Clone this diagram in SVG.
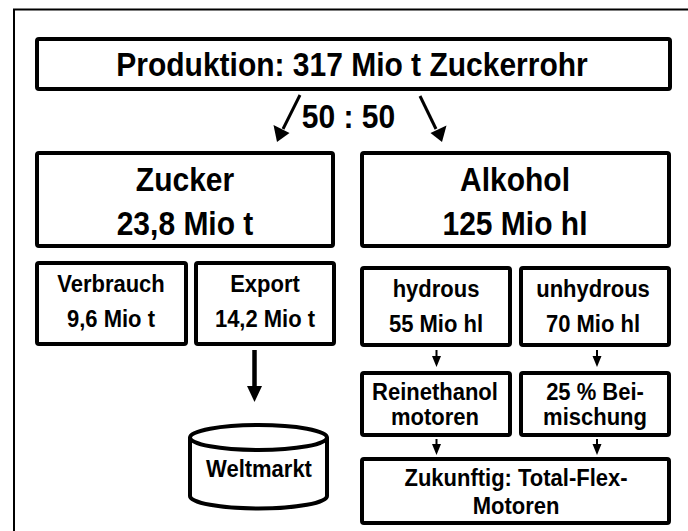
<svg xmlns="http://www.w3.org/2000/svg" width="688" height="531" viewBox="0 0 688 531">
  <style>
    .frame { fill: none; stroke: #000; stroke-width: 2; }
    .box { fill: #fff; stroke: #000; stroke-width: 4; }
    .big { font-family: "Liberation Sans", Arial, sans-serif; font-weight: bold; font-size: 30px; text-anchor: middle; fill: #000; }
    .small { font-family: "Liberation Sans", Arial, sans-serif; font-weight: bold; font-size: 22px; text-anchor: middle; fill: #000; }
    .line { fill: none; stroke: #000; }
    .head { fill: #000; stroke: none; }
  </style>

  <rect width="688" height="531" fill="#fff"/>
  <!-- outer frame, running off the right and bottom edges -->
  <rect class="frame" x="14" y="9.5" width="700" height="540"/>

  <!-- labels are set in a slightly tall face: each text is stretched 1.1x vertically about its baseline -->
  <g id="produktion">
    <rect class="box" x="37" y="39" width="633" height="50" rx="2"/>
    <text class="big" transform="translate(352,76) scale(1,1.1)">Produktion: 317 Mio t Zuckerrohr</text>
  </g>

  <g id="ratio">
    <text class="big" transform="translate(348.5,128) scale(1,1.1)">50 : 50</text>
  </g>

  <g id="zucker">
    <rect class="box" x="37" y="153" width="296" height="93" rx="2"/>
    <text class="big" transform="translate(185,191) scale(1,1.1)">Zucker</text>
    <text class="big" transform="translate(185,235) scale(1,1.1)">23,8 Mio t</text>
  </g>

  <g id="alkohol">
    <rect class="box" x="362" y="153" width="307" height="93" rx="2"/>
    <text class="big" transform="translate(515,191) scale(1,1.1)">Alkohol</text>
    <text class="big" transform="translate(515,235) scale(1,1.1)">125 Mio hl</text>
  </g>

  <g id="verbrauch">
    <rect class="box" x="37" y="263" width="149" height="81" rx="2"/>
    <text class="small" transform="translate(111,292) scale(1,1.1)">Verbrauch</text>
    <text class="small" transform="translate(111,327) scale(1,1.1)">9,6 Mio t</text>
  </g>

  <g id="export">
    <rect class="box" x="196" y="263" width="138" height="81" rx="2"/>
    <text class="small" transform="translate(265,292) scale(1,1.1)">Export</text>
    <text class="small" transform="translate(265,327) scale(1,1.1)">14,2 Mio t</text>
  </g>

  <g id="hydrous">
    <rect class="box" x="362" y="268" width="148" height="77" rx="2"/>
    <text class="small" transform="translate(436,297) scale(1,1.1)">hydrous</text>
    <text class="small" transform="translate(436,332) scale(1,1.1)">55 Mio hl</text>
  </g>

  <g id="unhydrous">
    <rect class="box" x="521" y="268" width="148" height="77" rx="2"/>
    <text class="small" transform="translate(593,297) scale(1,1.1)">unhydrous</text>
    <text class="small" transform="translate(593,332) scale(1,1.1)">70 Mio hl</text>
  </g>

  <g id="reinethanol">
    <rect class="box" x="362" y="373" width="148" height="62" rx="2"/>
    <text class="small" transform="translate(435,400) scale(1,1.1)">Reinethanol</text>
    <text class="small" transform="translate(435,425) scale(1,1.1)">motoren</text>
  </g>

  <g id="beimischung">
    <rect class="box" x="521" y="373" width="148" height="62" rx="2"/>
    <text class="small" transform="translate(595,400) scale(1,1.1)">25 % Bei-</text>
    <text class="small" transform="translate(595,425) scale(1,1.1)">mischung</text>
  </g>

  <g id="zukunftig">
    <rect class="box" x="362" y="459" width="307" height="64" rx="2"/>
    <text class="small" transform="translate(516,486) scale(1,1.1)">Zukunftig: Total-Flex-</text>
    <text class="small" transform="translate(516,514) scale(1,1.1)">Motoren</text>
  </g>

  <g id="weltmarkt">
    <path class="box" d="M190,437.5 L190,496 A68.5,12.5 0 0 0 327,496 L327,437.5"/>
    <ellipse class="box" cx="258.5" cy="437.5" rx="68.5" ry="12.5"/>
    <text class="small" transform="translate(259,477) scale(1,1.1)">Weltmarkt</text>
  </g>

  <g id="connectors">
    <!-- split of the harvest -->
    <line class="line" stroke-width="3" x1="300" y1="95" x2="283" y2="129"/>
    <polygon class="head" points="277,142 273.5,125 289.5,133"/>
    <line class="line" stroke-width="3" x1="420" y1="96" x2="436" y2="129"/>
    <polygon class="head" points="442,142 430.5,133 446.5,125.5"/>

    <!-- export to world market -->
    <line class="line" stroke-width="4.5" x1="254.5" y1="350" x2="254.5" y2="388"/>
    <polygon class="head" points="247,386 262,386 254.5,402"/>

    <!-- ethanol paths -->
    <line class="line" stroke-width="2" x1="436.5" y1="350" x2="436.5" y2="358"/>
    <polygon class="head" points="432,356 441,356 436.5,367"/>
    <line class="line" stroke-width="2" x1="597" y1="350" x2="597" y2="358"/>
    <polygon class="head" points="592.5,356 601.5,356 597,367"/>
    <line class="line" stroke-width="2" x1="436.5" y1="439" x2="436.5" y2="446"/>
    <polygon class="head" points="432,444 441,444 436.5,455"/>
    <line class="line" stroke-width="2" x1="597" y1="439" x2="597" y2="446"/>
    <polygon class="head" points="592.5,444 601.5,444 597,455"/>
  </g>
</svg>
